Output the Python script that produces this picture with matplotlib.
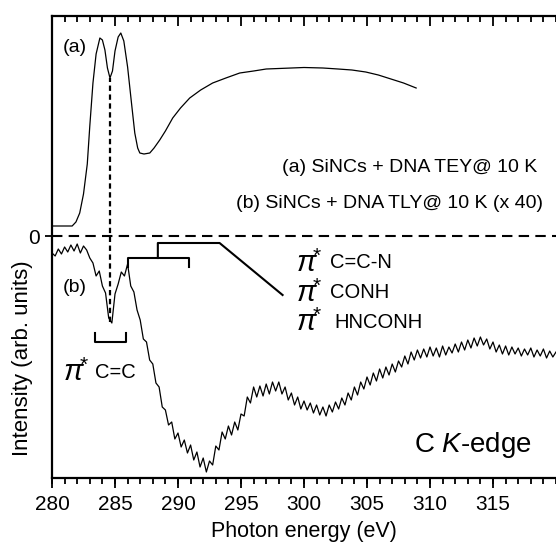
import numpy as np
import matplotlib
matplotlib.use("Agg")
import matplotlib.pyplot as plt

plt.rcParams['font.family'] = ['Liberation Sans', 'DejaVu Sans']
plt.rcParams['mathtext.fontset'] = 'custom'
plt.rcParams['mathtext.rm'] = 'Liberation Sans'
plt.rcParams['mathtext.it'] = 'Liberation Sans:italic'
plt.rcParams['mathtext.bf'] = 'Liberation Sans:bold'

# (a) TEY spectrum (arb. units, 0 = dashed baseline)
tey_energy = [280.0, 281.0, 281.6, 281.9, 282.2, 282.5, 282.8, 283.0, 283.25, 283.5,
              283.8, 284.0, 284.2, 284.4, 284.6, 284.8, 285.0, 285.25, 285.46, 285.7,
              286.0, 286.3, 286.57, 286.8, 286.97, 287.3, 287.76, 288.1, 288.55, 289.0,
              289.58, 290.2, 290.93, 291.8, 292.75, 293.8, 294.9, 296.0, 297.0, 298.0,
              299.0, 300.0, 301.5, 302.7, 303.8, 304.9, 305.9, 306.9, 307.9, 308.9]
tey_signal = [10, 10, 10, 14, 23, 42, 72, 110, 153, 182,
              198, 196, 186, 168, 158, 165, 185, 199, 203, 195,
              169, 134, 103, 88, 83, 82, 83, 88, 96, 105,
              118, 128, 138, 146, 153, 158, 163, 165, 167, 167.5,
              168, 168.5, 168, 167, 166, 164, 161, 157, 153, 148]

# (b) TLY spectrum (x 40), sampled every 0.25 eV from 280 eV
tly_start = 280.0
tly_step = 0.25
tly_signal = [-17, -20, -13, -18, -11, -16, -9, -15, -8, -17,
              -10, -14, -22, -27, -40, -35, -50, -57, -82, -87,
              -58, -48, -36, -40, -28, -50, -56, -74, -84, -103,
              -106, -124, -128, -147, -151, -171, -174, -189, -186, -203,
              -197, -211, -204, -217, -209, -224, -216, -231, -222, -236,
              -225, -229, -210, -214, -196, -203, -190, -199, -186, -194,
              -178, -180, -161, -167, -151, -161, -150, -160, -148, -158,
              -146, -155, -146, -158, -151, -164, -157, -169, -161, -173,
              -165, -174, -167, -177, -169, -179, -171, -180, -169, -176,
              -166, -173, -162, -169, -157, -164, -151, -159, -146, -153,
              -141, -149, -137, -145, -133, -142, -131, -139, -128, -136,
              -125, -131, -120, -128, -116, -124, -114, -122, -113, -121,
              -111, -120, -112, -121, -110, -119, -111, -117, -108, -116,
              -106, -114, -104, -112, -102, -110, -101, -109, -103, -113,
              -106, -116, -109, -118, -110, -119, -111, -118, -112, -120,
              -113, -119, -112, -121, -114, -120, -113, -122, -115, -121,
              -116]
tly_energy = tly_start + tly_step * np.arange(len(tly_signal))

# marker positions
cc_peak = 284.6
cc_bracket = (283.4, 285.86)
amide_bracket = (286.0, 290.85)
cn_bracket = (288.4, 293.3)

major_ticks = np.arange(280, 316, 5)
minor_ticks = np.arange(280, 321, 1)

fig = plt.figure(figsize=(5.56, 5.5), dpi=100)
ax = fig.add_axes([52 / 556, 72 / 550, 1 - 52 / 556, 462 / 550])

ax.plot(tey_energy, tey_signal, color='black', lw=0.9)
ax.plot(tly_energy, tly_signal, color='black', lw=0.9)

ax.axhline(0, color='black', lw=1.5, linestyle=(0, (5, 3)))
ax.plot([cc_peak, cc_peak], [-86, 158], color='black', lw=1.6,
        linestyle=(0, (2.4, 1.6)))

# pi*(C=C) bracket
ax.plot([cc_bracket[0], cc_bracket[0], cc_bracket[1], cc_bracket[1]],
        [-97, -106, -106, -97], color='black', lw=1.5)
# amide / C=C-N brackets with leader line
ax.plot([amide_bracket[0], amide_bracket[0], amide_bracket[1], amide_bracket[1]],
        [-31, -22, -22, -31], color='black', lw=1.5)
ax.plot([cn_bracket[0], cn_bracket[0], cn_bracket[1], 298.3],
        [-22, -7, -7, -59], color='black', lw=1.5)

ax.text(280.87, 188, '(a)', fontsize=14, va='center', ha='left')
ax.text(280.87, -51, '(b)', fontsize=14, va='center', ha='left')
ax.text(318.5, 68, '(a) SiNCs + DNA TEY@ 10 K', fontsize=14, va='center', ha='right')
ax.text(319.0, 33, '(b) SiNCs + DNA TLY@ 10 K (x 40)', fontsize=14, va='center', ha='right')

# pi* labels: big italic pi, then the group name
pi_labels = [(280.9, 283.4, -136, 'C=C'),
             (299.4, 302.1, -27, 'C=C-N'),
             (299.4, 302.1, -57, 'CONH'),
             (299.4, 302.4, -86, 'HNCONH')]
for x_pi, x_txt, y, name in pi_labels:
    ax.text(x_pi, y, r'$\pi$', fontsize=21, va='center', ha='left')
    ax.text(x_pi + 1.3, y + 7, '*', fontsize=15, va='center', ha='left')
    ax.text(x_txt, y, name, fontsize=14.5, va='center', ha='left')

ax.text(318.1, -209, r'C $K$-edge', fontsize=20, va='center', ha='right')

ax.set_xlim(280, 320)
ax.set_ylim(-242, 220)
ax.set_xticks(major_ticks)
ax.set_xticks(minor_ticks, minor=True)
ax.set_yticks([0])
# ticks on both x edges point inward; the bottom ones get outward marks below
ax.tick_params(axis='x', which='both', top=True, bottom=False, direction='in',
               width=1.3, color='black')
ax.tick_params(axis='x', which='major', length=7, labelsize=15, pad=12)
ax.tick_params(axis='x', which='minor', length=4.5)
ax.tick_params(axis='y', direction='out', length=5, width=1.3, labelsize=15)

bottom_edge = ax.get_xaxis_transform()
ax.vlines(major_ticks, -0.021, 0, transform=bottom_edge, color='black',
          lw=1.3, clip_on=False)
ax.vlines(minor_ticks, -0.0135, 0, transform=bottom_edge, color='black',
          lw=1.3, clip_on=False)

ax.spines['right'].set_visible(False)
for side in ('left', 'bottom', 'top'):
    ax.spines[side].set_linewidth(1.6)

ax.set_xlabel('Photon energy (eV)', fontsize=15.5, labelpad=5)
ax.set_ylabel('Intensity (arb. units)', fontsize=16)
ax.yaxis.set_label_coords(-0.038, 0.26)

fig.savefig('out.png', dpi=100)
